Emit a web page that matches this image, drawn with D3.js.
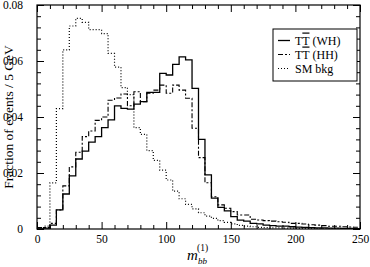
<!DOCTYPE html>
<html>
<head>
<meta charset="utf-8">
<script src="https://cdn.jsdelivr.net/npm/d3@7"></script>
<style>
  html, body { margin: 0; padding: 0; background: #fff; }
  svg { display: block; }
  text { font-family: "Liberation Serif", "DejaVu Serif", serif; fill: #000; }
</style>
</head>
<body>
<svg id="chart" width="370" height="267"></svg>
<script>
// bin lower edges, 5 GeV wide
const binEdges = d3.range(0, 250, 5);

const wh = [
  0.0000, 0.0003, 0.0014, 0.0068, 0.0125, 0.0190, 0.0250, 0.0278, 0.0310, 0.0330,
  0.0362, 0.0390, 0.0440, 0.0431, 0.0428, 0.0446, 0.0455, 0.0488, 0.0488, 0.0556,
  0.0550, 0.0588, 0.0615, 0.0604, 0.0502, 0.0320, 0.0193, 0.0110, 0.0077, 0.0065,
  0.0044, 0.0032, 0.0028, 0.0020, 0.0018, 0.0014, 0.0012, 0.0010, 0.0010, 0.0008,
  0.0007, 0.0006, 0.0005, 0.0004, 0.0004, 0.0003, 0.0003, 0.0002, 0.0002, 0.0001
];

const hh = [
  0.0005, 0.0005, 0.0020, 0.0068, 0.0154, 0.0222, 0.0274, 0.0330, 0.0350, 0.0388,
  0.0400, 0.0460, 0.0468, 0.0482, 0.0440, 0.0490, 0.0455, 0.0485, 0.0496, 0.0514,
  0.0485, 0.0514, 0.0496, 0.0467, 0.0360, 0.0255, 0.0165, 0.0115, 0.0086, 0.0074,
  0.0062, 0.0050, 0.0050, 0.0035, 0.0032, 0.0030, 0.0028, 0.0026, 0.0024, 0.0020,
  0.0020, 0.0018, 0.0015, 0.0014, 0.0012, 0.0010, 0.0010, 0.0008, 0.0007, 0.0006
];

const smBkg = [
  0.0005, 0.0010, 0.0165, 0.0430, 0.0640, 0.0725, 0.0752, 0.0738, 0.0712, 0.0712,
  0.0698, 0.0627, 0.0578, 0.0505, 0.0480, 0.0362, 0.0338, 0.0280, 0.0245, 0.0210,
  0.0175, 0.0135, 0.0108, 0.0088, 0.0072, 0.0058, 0.0046, 0.0038, 0.0030, 0.0024,
  0.0018, 0.0013, 0.0010, 0.0008, 0.0006, 0.0005, 0.0004, 0.0004, 0.0003, 0.0003,
  0.0002, 0.0002, 0.0002, 0.0001, 0.0001, 0.0001, 0.0001, 0.0001, 0.0001, 0.0001
];

const xMajor = [0, 50, 100, 150, 200, 250];
const xMinor = d3.range(0, 251, 10).filter(v => v % 50 !== 0);
const yMajor = [0, 0.02, 0.04, 0.06, 0.08];
const yMinor = d3.range(0, 0.0801, 0.004).filter(v => Math.abs(v / 0.02 - Math.round(v / 0.02)) > 1e-6);

const series = [
  { name: "WH", values: wh, dash: null, width: 1.3 },
  { name: "HH", values: hh, dash: "5,2,2,2", width: 1.1 },
  { name: "SM bkg", values: smBkg, dash: "1,2", width: 1.2 }
];

(function () {
  const svg = d3.select("#chart");
  const x0 = 37, x1 = 360, y0 = 5, y1 = 229;

  const x = d3.scaleLinear().domain([0, 250]).range([x0, x1]);
  const y = d3.scaleLinear().domain([0, 0.08]).range([y1, y0]);

  // histograms
  const line = d3.line()
    .x(d => x(d[0]))
    .y(d => y(d[1]))
    .curve(d3.curveStepAfter);

  svg.append("clipPath").attr("id", "clip")
    .append("rect").attr("x", x0).attr("y", y0).attr("width", x1 - x0).attr("height", y1 - y0);

  series.forEach(s => {
    const pts = binEdges.map((e, i) => [e, s.values[i]]);
    pts.push([250, s.values[s.values.length - 1]]);
    svg.append("path")
      .attr("clip-path", "url(#clip)")
      .attr("d", line(pts))
      .attr("fill", "none")
      .attr("stroke", "#000")
      .attr("stroke-width", s.width)
      .attr("stroke-dasharray", s.dash);
  });

  // axes, ticks inward on all sides
  function styleAxis(g) {
    g.attr("font-family", null).attr("font-size", null);
    g.select(".domain").remove();
    g.selectAll(".tick line").attr("stroke", "#000").attr("stroke-width", 1);
    g.selectAll("text").attr("font-size", 11.5).attr("fill", "#000");
  }

  svg.append("g").attr("transform", `translate(0,${y1})`)
    .call(d3.axisBottom(x).tickValues(xMajor).tickSize(-7).tickPadding(6).tickFormat(d3.format("d")))
    .call(styleAxis);
  svg.append("g").attr("transform", `translate(0,${y1})`)
    .call(d3.axisBottom(x).tickValues(xMinor).tickSize(-4).tickFormat(""))
    .call(styleAxis);
  svg.append("g").attr("transform", `translate(0,${y0})`)
    .call(d3.axisTop(x).tickValues(xMajor).tickSize(-7).tickFormat(""))
    .call(styleAxis);
  svg.append("g").attr("transform", `translate(0,${y0})`)
    .call(d3.axisTop(x).tickValues(xMinor).tickSize(-4).tickFormat(""))
    .call(styleAxis);

  svg.append("g").attr("transform", `translate(${x0},0)`)
    .call(d3.axisLeft(y).tickValues(yMajor).tickSize(-7).tickPadding(14)
      .tickFormat(d => d === 0 ? "0" : d3.format(".2f")(d)))
    .call(styleAxis);
  svg.append("g").attr("transform", `translate(${x0},0)`)
    .call(d3.axisLeft(y).tickValues(yMinor).tickSize(-4).tickFormat(""))
    .call(styleAxis);
  svg.append("g").attr("transform", `translate(${x1},0)`)
    .call(d3.axisRight(y).tickValues(yMajor).tickSize(-7).tickFormat(""))
    .call(styleAxis);
  svg.append("g").attr("transform", `translate(${x1},0)`)
    .call(d3.axisRight(y).tickValues(yMinor).tickSize(-4).tickFormat(""))
    .call(styleAxis);

  svg.append("rect")
    .attr("x", x0).attr("y", y0)
    .attr("width", x1 - x0).attr("height", y1 - y0)
    .attr("fill", "none").attr("stroke", "#000").attr("stroke-width", 1.2);

  // axis titles
  svg.append("text")
    .attr("transform", `translate(13,${(y0 + y1) / 2}) rotate(-90)`)
    .attr("text-anchor", "middle")
    .attr("font-size", 13.5)
    .text("Fraction of events / 5 GeV");

  const xt = svg.append("g").attr("transform", "translate(187,260)");
  xt.append("text").attr("font-size", 15).attr("font-style", "italic").text("m");
  xt.append("text").attr("x", 11).attr("y", 4).attr("font-size", 9)
    .attr("font-style", "italic").style("fill", "#000").text("bb");
  xt.append("text").attr("x", 10).attr("y", -9).attr("font-size", 9.5).text("(1)");

  // legend
  const lg = svg.append("g").attr("transform", "translate(273,29)");
  lg.append("rect").attr("width", 84).attr("height", 52)
    .attr("fill", "#fff").attr("stroke", "#000").attr("stroke-width", 1);

  const labels = [["T", "T", " (WH)"], ["T", "T", " (HH)"], ["SM bkg"]];
  series.forEach((s, i) => {
    const cy = 11.5 + i * 14;
    lg.append("line")
      .attr("x1", 5).attr("x2", 17).attr("y1", cy).attr("y2", cy)
      .attr("stroke", "#000").attr("stroke-width", s.width)
      .attr("stroke-dasharray", s.dash);
    const t = lg.append("text").attr("x", 22).attr("y", cy + 4).attr("font-size", 12);
    const parts = labels[i];
    if (parts.length === 1) {
      t.text(parts[0]);
    } else {
      t.append("tspan").text(parts[0]);
      t.append("tspan").style("text-decoration", "overline").text(parts[1]);
      t.append("tspan").text(parts[2]);
    }
  });
})();
</script>
</body>
</html>
